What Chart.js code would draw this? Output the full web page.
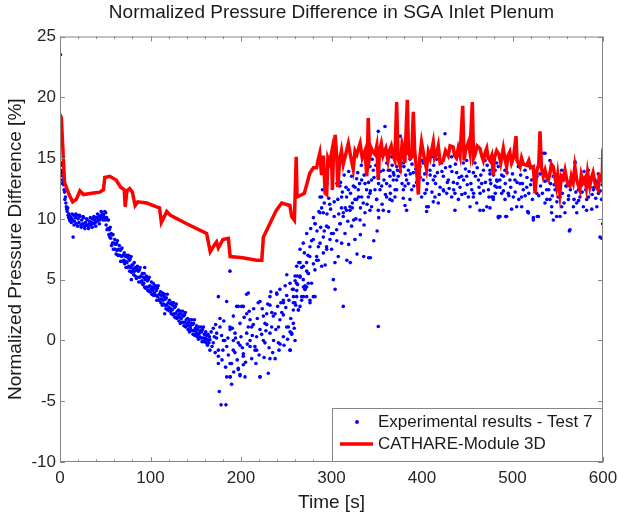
<!DOCTYPE html>
<html>
<head>
<meta charset="utf-8" />
<script src="https://cdn.jsdelivr.net/npm/chart.js@4.4.0/dist/chart.umd.min.js"></script>
<style>
  body { margin:0; background:#fff; }
  #wrap { width:618px; height:516px; }
</style>
</head>
<body>
<div id="wrap"><canvas id="chart" width="618" height="516"></canvas></div>
<script>
// axis ticks
const xTicks = [0, 100, 200, 300, 400, 500, 600];
const xMinorStep = 20;
const yTicks = [-10, -5, 0, 5, 10, 15, 20, 25];

// experimental results - Test 7, [time s, pressure diff %]
const expEarly = [[0.5,23.5],[0.3,13.6],[0.8,14.0],[1.2,14.4],[1.6,13.8],[2.0,14.6],[2.4,13.2],[2.8,12.9],[3.2,13.5],[3.6,13.0],
  [4.0,12.8],[4.5,12.4],[5.0,12.2],[5.4,11.6],[6.0,11.8],[6.5,11.3],[7.0,11.0],[7.5,10.8],[8.0,10.6],[8.5,10.9],[9.0,10.3],
  [9.5,10.1],[10,10.4],[10.5,9.9],[11,10.2],[11.5,9.8],[12,10.1],[12.5,9.7],[13,10.0],[14,9.9],[14.5,8.5],[15,10.3],[16,9.8],
  [17,10.1],[18,9.6],[19,10.3],[20,10.0],[21,9.7],[22,10.2],[23,9.5],[24,9.9],[25,9.6],[26,10.1],[27,9.4],[28,9.7],[29,9.5],
  [30,9.9],[31,9.4],[32,9.6],[33,9.8],[34,9.5],[35,9.7],[36,10.0],[37,9.6],[38,9.9],[39,9.7],[40,10.1],[41,9.8],[42,10.0],
  [43,10.2],[44,9.9],[45,10.3],[46,10.1],[47,10.4],[48,10.3],[49,10.1],[50,9.9],
  [13.5,10.4],[15.5,9.5],[17.5,10.4],[19.5,9.4],[21.5,10.3],[23.5,9.3],[25.5,10.2],[27.5,9.2],[29.5,10.0],[31.5,9.2],
  [33.5,10.1],[35.5,9.3],[37.5,10.2],[39.5,9.4],[41.5,10.4],[43.5,9.6],[45.5,10.6],[47.5,9.9],[49.5,10.6]];

const expDecline = [[50.5,10.5],[51,9.5],[51.5,10.1],[52,9.1],[52.5,9.9],[53,9.2],[53.5,9.9],[54,8.7],[54.5,9.1],[55,8.5],
  [55.5,9.3],[56,8.4],[56.5,8.8],[57,7.8],[57.5,8.7],[58,8.0],[58.5,8.7],[59,7.5],[59.5,8.0],[60,7.5],[60.5,8.3],[61,7.5],
  [61.5,7.9],[62,7.1],[62.5,8.0],[63,7.4],[63.5,8.2],[64,7.0],[64.5,7.5],[65,7.0],[65.5,7.8],[66,7.0],[66.5,7.4],[67,6.5],
  [67.5,7.5],[68,6.9],[68.5,7.6],[69,6.5],[69.5,7.0],[70,6.5],
  [70.5,6.6],[71,7.2],[71.5,6.3],[72,6.9],[72.5,6.5],[73,6.0],[73.5,7.0],[74,6.4],[74.5,6.0],[75,6.8],
  [75.5,7.0],[76,6.1],[76.5,6.6],[77,5.7],[77.5,6.7],[78,6.0],[78.5,6.9],[78.8,5.0],[79,5.6],[79.5,6.2],[80,5.7],
  [80.5,6.2],[81,5.9],[81.5,5.4],[82,6.4],[82.5,5.7],[83,5.3],[83.5,6.0],[84,5.8],[84.5,5.1],[85,5.9],
  [85.5,6.1],[86,5.2],[86.5,5.7],[87,4.8],[87.5,5.8],[88,5.2],[88.5,6.0],[89,4.8],[89.5,5.3],[90,4.8],
  [90.5,4.9],[91,5.5],[91.5,4.6],[92,5.2],[92.5,4.7],[93,5.5],[93.5,4.4],[93.6,6.0],[94,5.0],[94.5,4.3],[95,5.2],
  [95.5,5.3],[96,4.4],[96.5,4.9],[97,4.1],[97.5,5.0],[98,4.4],[98.5,5.2],[99,4.0],[99.5,4.5],[100,4.0],
  [100.5,4.2],[101,4.8],[101.5,3.8],[102,4.4],[102.5,4.1],[103,4.7],[103.5,3.7],[104,4.3],[104.5,3.9],[105,4.5],
  [105.5,4.5],[106,3.7],[106.5,4.1],[107,3.3],[107.5,4.3],[108,3.6],[108.5,4.5],[109,3.3],[109.5,3.8],[110,3.3],
  [110.5,3.4],[111,4.0],[111.5,3.1],[112,3.7],[112.5,3.4],[113,2.9],[113.5,3.9],[114,3.3],[114.5,3.0],[115,3.6],
  [115.5,3.8],[115.7,2.2],[116,2.9],[116.5,3.4],[117,2.6],[117.5,3.5],[118,2.9],[118.5,3.8],[119,2.5],[119.5,3.1],[120,2.6],
  [120.5,2.7],[121,3.3],[121.5,2.4],[122,3.0],[122.5,2.6],[123,2.2],[123.5,3.1],[124,2.5],[124.5,2.9],[125,2.1],
  [125.5,3.1],[126,2.2],[126.5,2.7],[127,1.9],[127.5,2.8],[128,2.2],[128.5,3.0],[129,1.8],[129.5,2.4],[130,1.9],
  [130.5,2.0],[131,2.5],[131.5,1.6],[132,2.2],[132.5,1.9],[133,1.4],[133.5,2.4],[134,1.8],[134.5,1.5],[135,2.1],
  [135.5,2.4],[136,1.5],[136.5,2.0],[137,1.2],[137.5,2.1],[138,1.5],[138.5,2.3],[139,1.1],[139.5,1.7],[140,1.2],
  [140.5,1.3],[141,1.8],[141.5,0.9],[142,1.5],[142.5,1.2],[143,0.7],[143.5,1.7],[144,1.1],[144.5,0.9],[145,1.4],
  [145.5,1.7],[146,0.8],[146.5,1.3],[147,0.5],[147.5,1.4],[148,0.8],[148.5,1.7],[149,0.4],[149.5,1.0],[150,0.5],
  [150.5,0.7],[151,1.2],[151.5,0.3],[152,0.9],[152.5,0.5],[153,0.1],[153.5,1.1],[154,0.6],[154.5,0.3],[155,0.8],
  [155.5,1.1],[156,0.2],[156.5,0.7],[157,-0.1],[157.5,0.9],[158,0.2],[158.5,1.1],[159,-0.1],[159.5,0.5],[160,0.0],
  [160.5,0.2],[161,0.7],[161.5,-0.2],[162,0.4],[162.5,0.1],[163,-0.4],[163.5,0.5],[164,0.0],[164.5,-0.2],[165,0.3]];

const expScatter = [[165.7,0.05],[169.4,1.0],[173,0.2],[175,3.6],[175,-1.9],[176.8,1.8],[176,-4.2],[178,-5.3],[183.4,-5.3],
  [180,-0.8],[182,0.0],[184.2,3.2],[184.2,-3.0],[188,-3.0],[187.8,5.7],[187.8,1.1],[189.6,-1.9],[189.6,-3.6],[191.5,2.0],
  [193.3,-1.0],[195.2,2.8],[197,-2.4],[198.9,-0.4],[198.9,-2.9],[200.7,2.8],[202.5,-1.3],[204.4,-3.0],[206.2,3.8],[208,1.1],
  [210,0.0],[211.8,-1.5],[213.6,1.3],[215.4,-0.5],[219,3.1],[221,-3.0],[222.8,0.5],[224.7,2.0],[226.5,-0.2],[228.4,1.3],
  [230.2,-2.7],[232,3.6],[234,2.3],[236,0.0],[237.7,-1.5],[239.6,3.8],[241.4,1.1],[243.2,-0.3],[245.1,2.3],[246.9,3.1],
  [248.8,4.5],[250.6,5.4],[252.4,1.1],[254.3,-0.8],[256,0.5],[258,3.6],[259.8,4.9],[261.6,4.1],[263.4,2.5],[265.3,5.2],
  [267,6.0],[269,3.6],[270.8,4.5],[272.6,5.7],[276.3,3.1],[280,6.3],[281.8,3.6],
  [208.1,3.9],[197,2.8],[202.6,2.8],[221,3.2],[232,2.9],[239.4,3.9],[243,4.2],[254.2,4.7],[259.7,5.3],[261.5,6.1],
  [265.2,6.4],[268.9,4.4],[272.6,3.6],[274.4,4.7],[250.5,3.7],[246.8,3.3],[237.6,2.2],[228.4,2.2],[233.9,1.1],[221,0.9],
  [217.3,0.3],[210,1.7],[206.3,0.6],[198.9,1.4],[193.4,0.6],[187.9,0.9],[180.5,0.0],[176.8,1.1],[173.1,0.6],[169.4,-0.2],
  [165.7,-0.8],[175,-0.8],[184.2,-0.5],[191.5,-0.8],[197,-0.2],[202.6,-1.1],[210,-0.5],[215.5,-0.8],[224.7,0.0],[232,0.6],
  [241.3,-0.2],[246.8,0.3],[254.2,-0.8],[175,-1.3],[187.9,-1.9],[202.6,-2.0],[197,-2.3],[187.9,-3.0],[198.9,-2.8],
  [221,-3.0],[232,-1.5],[217.3,-0.8],[191.5,0.0],[206.3,2.2],[211.8,1.1],[226.5,1.4],[235.7,2.0],[243,1.7],[250.5,1.1],
  [257.8,1.4],[263.4,2.5],[267,3.3],[270.7,4.2],[274.4,5.5],[257.8,3.1],[246.8,2.1],[254.2,0.7],[259.7,0.0],
  [167,0.7],[168,-0.5],[170.5,0.3],[171.5,-1.0],[172,1.3],[178.5,0.4],[179,-1.6],[181,1.6],[183,-2.2],[185.5,0.2],
  [186,-1.2],[190.5,1.0],[192,-2.6],[194,0.2],[195.8,-1.6],[200,0.3],[201.5,-0.6],[203.5,1.9],[205,-1.8],[207,-0.3],
  [209,2.4],[212.5,0.4],[214,2.6],[216.5,-1.9],[218,1.8],[220,-1.2],[223.5,2.6],[225.5,-1.4],[227.5,0.8],[229.5,3.0],
  [231,-0.6],[233,4.0],[235,-1.0],[238.5,0.9],[240.5,2.8],[242,-0.8],[244,3.1],[247.5,-0.4],[249.5,2.7],[251.5,0.1],
  [253,3.3],[255,1.8],[256.8,4.2],[258.8,1.0],[260.5,2.9],[262.5,4.6]];

const expRise = [[256,0.6],[257.8,4.2],[262,5.3],[263.8,6.4],[265.2,7.5],[268.8,8.0],[272.6,8.8],[276,6.9],[278,8.2],
  [281.8,9.6],[283.6,6.6],[285.5,7.7],[287.3,11.8],[291,10.5],[293,6.2],[294.7,7.5],[296.5,9.3],[300,8.8],[302,5.0],
  [304,4.2],[305.9,8.2],[309.6,9.6],[313,2.8],[315.2,10.9],[317,6.6],[319,7.9],[320.8,6.4],[324.5,9.9],[328.2,7.1],
  [330,11.8],[331.9,8.7],[335.6,6.9],[339.3,11.2],[341,6.8],[343,6.8],[346.7,8.2],[350.4,9.0],[351.7,1.15],[352.2,10.1],
  [355.9,11.2],[359.6,12.0],[363.3,10.6],[367,11.5],
  [259.6,3.1],[261.5,3.6],[265.2,2.8],[267,3.6],[270.7,4.2],[272.5,4.4],[268.8,5.0],[274.4,5.5],[276.2,3.3],[279.9,3.6],
  [278,4.7],[281.7,5.8],[285.4,6.6],[289.1,6.1],[291,7.2],[294.6,7.7],[298.3,8.3],[302,8.8],[305.7,9.1],[309.3,9.6],
  [313,10.2],[316.7,10.7],[320.4,11.0],[325.9,11.6],[333.3,11.8],[342.5,12.1],[349.9,11.6],[276.2,7.7],[279.9,8.3],
  [283.6,6.9],[287.3,8.0],[291,8.5],[294.6,9.4],[300.1,7.5],[303.8,6.4],[307.5,6.9],[311.2,8.0],[314.9,8.8],[322.2,9.4],
  [325.9,8.3],[331.5,9.9],[337,10.5],[344.3,11.0],[351.7,10.7],[261.5,4.7],[257.8,2.5],[265.2,5.3],[268.8,6.1],[272.5,6.4],
  [289.1,11.8],[289.1,10.9],[309.3,12.7],[311.2,11.8],[313,10.5],[322.2,13.5],[327.8,13.3],[333.3,13.2],[342.5,14.3],
  [346.2,14.0],[351.7,17.2],[359.1,17.6],[344.3,13.2],[338.8,12.4],[335.1,11.3],[327.8,11.6],[320.4,10.7],[316.7,11.8],
  [342.5,10.7],[349.9,11.6],[353.6,12.4],[360.9,12.9],[364.6,12.7],[368.3,13.8],[372,13.2],[364.6,11.6],[357.2,10.7],
  [368.3,15.1],[372,14.3],[355.4,12.7],[360.9,11.8],[348,12.4],[364.6,13.5],[337,12.9],[324.1,12.7],[318.6,12.4],
  [329.6,12.4],[340.7,11.8],[351.7,13.5],[357.2,14.0],[362.8,14.0],[370.1,12.4],[281.8,9.6],[287.3,10.5],
  [290,12.4],[292,11.3],[295,12.9],[297,11.7],[299,10.8],[301,12.5],[303,11.4],[306,12.9],[308,10.4],[310,13.0],
  [312,12.2],[314,13.6],[316,12.6],[319,13.9],[321,12.1],[323,10.9],[326,12.6],[329,13.8],[331,12.9],[333,14.4],
  [336,13.6],[338,14.7],[341,13.0],[343,12.3],[345,14.9],[347,13.4],[349,14.4],[352,12.9],[354,13.9],[356,15.2],
  [358,13.2],[361,14.6],[363,15.3],[365,12.1],[367,14.4],[369,13.6],[371,15.0],[373,14.0],
  [270,7.2],[274,7.0],[277,9.2],[280,10.1],[284,9.0],[286,10.6],[288,9.3],[292,9.0],[295,10.4],[298,11.2],[303,10.2],
  [307,11.6],[311,10.9],[318,9.8],[323,11.3],[327,10.0],[332,10.9],[336,9.5]];

const expPlateau = [[364.6,14.0],[368.3,13.2],[372,12.4],[375.7,16.8],[379.4,14.6],[381.2,11.1],[383,13.2],[386.8,14.9],
  [388.6,12.4],[390.4,13.8],[394,13.0],[397.8,14.3],[399.6,11.8],[401.4,13.2],[405,12.4],[407,11.0],[408.8,14.0],[412.5,13.2],
  [414.3,11.8],[416.2,14.9],[420,12.6],[423.6,13.5],[425.4,17.0],[427.3,12.1],[431,14.3],[432.8,11.8],[434.7,13.0],
  [438.3,13.8],[440.2,11.6],[442,12.6],[445.7,14.6],[447.6,12.1],[449.4,13.5],[453.1,11.0],[455,12.4],[456.8,13.8],
  [460.5,11.3],[462.4,13.2],[464.2,12.1],[467.9,14.0],[471.6,11.0],[473.4,12.4],[475.3,13.2],[477.1,11.8],[480.8,14.0],
  [482.7,12.6],[484.3,10.2],
  [366.4,15.1],[370.1,11.8],[373.8,13.5],[377.5,15.7],[381.2,12.7],[384.9,14.0],[386.7,11.6],[392.2,15.1],[395.9,13.2],
  [401.4,14.6],[403.3,12.1],[410.6,15.1],[414.3,13.5],[418,11.3],[421.7,14.6],[429.1,13.2],[432.7,15.1],[436.4,12.1],
  [443.8,13.5],[449.3,14.8],[451.2,11.8],[458.5,14.6],[465.9,12.9],[469.6,14.8],[475.1,14.0],[478.8,11.8],[482.5,14.6],
  [486.1,13.2],[383,10.7],[405.1,10.6],[436.4,10.7],[464,10.7],[475.1,10.9],[379.3,11.7],[423.5,12.4],[456.7,11.8],
  [475.1,13.7],[478.8,11.6],[482.5,13.2],[486.2,10.2],[490,13.5],[493.5,10.2],[495.3,12.1],[499,10.8],[500.9,11.8],
  [502.7,13.2],[504.6,11.0],[508.3,12.9],[510,11.8],[513.8,14.0],[515.7,12.6],[517.5,10.5],[521.2,13.2],[523,9.9],
  [526.8,12.1],[528.6,10.2],[534,15.4],[535.9,11.3],[539.6,13.2],[541.4,14.8],[543.3,11.0],[547,12.4],[548.8,10.2],
  [552.5,11.8],[556.2,13.2],[558,10.5],[561.8,11.6],[563.5,9.1],[567.3,11.0],[569.1,14.6],[571,10.5],[572.8,12.4],
  [576.5,13.5],[578.3,11.0],[582,11.6],[585.7,12.6],[587.6,10.8],[591.3,13.2],[593.2,11.0],[595,12.1],[596.7,8.5],
  [598.6,13.2],[599.6,9.6],
  [477,14.6],[480.6,12.7],[484.3,14.3],[488,12.1],[491.7,14.0],[497.2,13.2],[506.4,14.3],[511.9,12.4],[519.3,14.3],
  [524.8,13.2],[530.3,13.7],[537.7,12.4],[545.1,13.5],[550.6,11.8],[554.3,14.0],[559.8,12.7],[565.3,13.5],[574.5,11.8],
  [580.1,12.9],[583.7,14.0],[589.3,12.4],[594.8,13.7],[598.5,11.6],[517.5,10.5],[543.2,10.5],[554.3,11.0],[570.9,11.3],
  [581.9,10.7],[491.7,11.6],[510.1,11.0],[541.4,11.6],[535.9,15.4],[569.1,14.7],[562.8,9.0],[598.5,8.4],[484.4,10.1],
  [492.5,10.2],[523,10.1],[527.4,10.2],[545.1,9.9],[552.5,10.2],[516.8,10.6],[467.8,10.7],[405.2,11.0],[412.5,11.4],
  [379.4,12.4],[383.1,15.4],
  [376,13.9],[378,12.9],[380,14.3],[382,13.6],[385,12.9],[387,13.7],[389,14.5],[391,12.7],[393,14.1],[396,12.2],
  [398,13.4],[400,14.8],[403,13.7],[406,12.9],[409,13.6],[411,12.2],[413,14.4],[415,12.9],[417,13.8],[419,12.0],
  [422,13.9],[424,12.3],[426,14.2],[428,13.0],[430,12.5],[433,13.9],[435,12.4],[437,14.5],[439,12.9],[441,13.4],
  [444,12.0],[446,13.2],[448,14.1],[450,12.8],[452,13.9],[454,12.9],[457,12.1],[459,13.5],[461,14.2],[463,12.6],
  [465,13.6],[468,12.3],[470,13.0],[472,14.4],[474,11.8],[476,12.9],[479,13.6],[481,12.1],[483,13.1],[486,12.6],
  [488,13.6],[490,12.3],[492,12.9],[494,13.8],[496,11.9],[498,12.6],[500,13.7],[503,12.2],[505,13.0],[507,11.6],
  [509,13.6],[511,12.9],[514,11.9],[516,13.4],[518,12.1],[520,12.8],[522,11.6],[525,12.6],[527,13.5],[529,11.9],
  [531,12.7],[533,12.1],[536,13.1],[538,11.6],[540,12.4],[542,12.9],[544,11.9],[546,12.8],[549,11.4],[551,12.9],
  [553,13.4],[555,12.1],[557,11.3],[559,12.7],[562,11.9],[564,12.4],[566,12.9],[568,11.6],[570,12.2],[573,11.5],
  [575,12.7],[577,12.2],[579,13.9],[581,12.4],[584,11.8],[586,13.3],[588,12.0],[590,12.6],[592,11.7],[594,13.0],
  [597,12.3],[599,12.8]];

// CATHARE-Module 3D, [time s, pressure diff %]
const cathare = [[0,18.6],[1.5,18.3],[3,16],[5,13],[7,12.6],[10,12.0],[14,11.4],[18,11.6],[22,12.3],[26,12.0],[35,12.1],
  [44,12.2],[48,12.4],[49.5,13.4],[55,13.5],[62,13.2],[67,12.6],[71,12.4],[72,11.0],[74,12.3],[77,12.5],[80,12.2],[83,11.1],
  [86,11.4],[96,11.3],[106,11.0],[110,10.9],[112,9.7],[116,10.3],[118,10.6],[122,10.3],[140,9.6],[162,8.8],[166,7.3],
  [171,7.9],[173,8.1],[175,7.6],[180,8.3],[186,8.4],[188,6.9],[202,6.8],[217,6.6],[223,6.6],[224.7,8.5],[228,9.0],
  [239,10.7],[245,11.3],[254,11.1],[256,10.2],[259,9.9],[261,15.1],[262,11.8],[270,12.1],[276,13.75],[280,14.2],
  [283.6,14.2],[285,14.8],[287,15.4],[289,13.6],[291,15.2],[293,12.1],[294.7,12.0],[296,15.0],[298,14.6],[300,15.4],
  [301,12.4],[302,14.8],[304,16.9],[306,15.0],[307,12.6],[309,14.8],[311,15.6],[313,14.5],[316,15.4],[318.6,16.2],[321,15.2],[324,14.1],
  [326,15.6],[328,15.3],[330,15.8],[331.6,16.2],[334,15.0],[337,15.6],[339,13.5],[340.6,18.3],[342,15.0],[344,15.8],
  [345.8,15.5],[348,15.3],[350,16.0],[351.7,13.2],[353,15.6],[355,16.2],[357,15.2],[360,15.8],[362.4,14.8],[364,15.6],
  [366,16.0],[368,15.2],[370,14.8],[372,19.6],[373.5,15.0],[376,14.3],[378,16.2],[379.4,15.8],[381,14.6],[383.8,19.8],
  [385,15.6],[387,15.0],[388.6,15.1],[390.4,18.8],[392,15.5],[394,14.0],[396,12.0],[397.5,15.0],[399.5,16.3],[402,15.2],
  [405,14.1],[407,15.5],[409,15.0],[412.4,16.3],[414,15.0],[416,15.3],[418,16.0],[420,14.6],[423.4,14.8],[426,15.6],
  [429,15.2],[431,16.0],[434.4,15.9],[436,15.2],[438,15.0],[440,15.8],[442,15.2],[445,19.3],[446.5,14.8],[448,15.6],
  [451.3,16.3],[453,15.5],[455.6,19.6],[457,15.0],[458.6,15.3],[461,16.0],[464,15.8],[466,15.2],[467.8,14.8],[470,15.5],
  [471.5,15.8],[473,15.0],[475,14.8],[477,15.2],[478.8,13.6],[480,15.0],[482.5,15.6],[485,15.3],[487,14.6],[489.8,15.8],
  [491.5,15.0],[493.5,14.3],[495,15.2],[497,15.5],[499,14.6],[501,15.0],[503.9,16.8],[505,14.8],[508.3,14.3],[510,15.0],
  [512,14.5],[515.7,14.4],[518,14.8],[520,14.2],[523,14.3],[524.9,12.1],[527,14.0],[529,14.5],[530.4,17.2],[532,14.2],
  [534,13.5],[536,14.0],[538,13.4],[539.6,13.2],[541.5,13.8],[543,14.5],[545,14.3],[547,13.4],[548.6,12.7],[550,13.6],
  [552.3,12.1],[554,13.5],[556,13.3],[558,14.0],[560,13.2],[561.5,12.8],[563.4,12.7],[565,13.5],[567,13.0],[568.9,14.3],
  [571,13.2],[572.5,12.8],[574.4,12.4],[576,13.6],[578,13.0],[579.9,13.3],[581.5,12.6],[583,13.8],[585.4,12.7],[587,13.3],
  [589,13.8],[591,13.0],[592.5,12.6],[594.5,12.4],[596,13.6],[598,13.5],[599,13.0],[600,15.8]];

const FONT = "'Liberation Sans', Arial, Helvetica, sans-serif";
const toXY = arr => arr.map(p => ({ x: p[0], y: p[1] }));
const expAll = [].concat(expEarly, expDecline, expScatter, expRise, expPlateau);

const framePlugin = {
  id: 'frame',
  afterDatasetsDraw(chart) {
    const { ctx, chartArea: a, scales: { x, y } } = chart;
    ctx.save();
    ctx.strokeStyle = '#858585';
    ctx.lineWidth = 1;
    ctx.strokeRect(a.left + 0.5, a.top + 0.5, a.right - a.left - 1, a.bottom - a.top - 1);
    ctx.beginPath();
    for (let t = xTicks[0]; t <= xTicks[xTicks.length - 1]; t += xMinorStep) {
      const px = Math.round(x.getPixelForValue(t)) + 0.5;
      const len = xTicks.includes(t) ? 5 : 2.5;
      ctx.moveTo(px, a.bottom); ctx.lineTo(px, a.bottom - len);
      ctx.moveTo(px, a.top); ctx.lineTo(px, a.top + len);
    }
    yTicks.forEach(v => {
      const py = Math.round(y.getPixelForValue(v)) + 0.5;
      ctx.moveTo(a.left, py); ctx.lineTo(a.left + 5, py);
      ctx.moveTo(a.right, py); ctx.lineTo(a.right - 5, py);
    });
    ctx.stroke();

    // legend box, lower right
    const ds = chart.data.datasets;
    const bw = 271, bh = 54;
    const bx = a.right - bw, by = a.bottom - bh;
    ctx.fillStyle = '#fff';
    ctx.fillRect(bx, by, bw, bh);
    ctx.strokeRect(bx + 0.5, by + 0.5, bw - 1, bh - 1);
    ctx.fillStyle = ds[0].backgroundColor;
    ctx.beginPath();
    ctx.arc(bx + 25, by + 14, 1.9, 0, Math.PI * 2);
    ctx.fill();
    ctx.strokeStyle = ds[1].borderColor;
    ctx.lineWidth = 3.5;
    ctx.beginPath();
    ctx.moveTo(bx + 8, by + 36); ctx.lineTo(bx + 41, by + 36);
    ctx.stroke();
    ctx.fillStyle = '#1a1a1a';
    ctx.font = '17px ' + FONT;
    ctx.textBaseline = 'middle';
    ctx.fillText(ds[0].label, bx + 46, by + 14);
    ctx.fillText(ds[1].label, bx + 46, by + 36);
    ctx.restore();
  }
};

new Chart(document.getElementById('chart'), {
  type: 'scatter',
  data: {
    datasets: [
      { label: 'Experimental results - Test 7', data: toXY(expAll), showLine: false,
        pointRadius: 1.8, pointHoverRadius: 1.8, backgroundColor: '#0000ff', borderWidth: 0, order: 2 },
      { label: 'CATHARE-Module 3D', data: toXY(cathare), showLine: true, pointRadius: 0,
        borderColor: '#ff0000', backgroundColor: '#ff0000', borderWidth: 3.5, tension: 0, order: 1 }
    ]
  },
  options: {
    responsive: false,
    animation: false,
    layout: { padding: { left: 0, right: 15, top: 0, bottom: 0 } },
    plugins: {
      legend: { display: false },
      tooltip: { enabled: false },
      title: { display: true, fullSize: false, text: 'Normalized Pressure Difference in SGA Inlet Plenum',
        color: '#1a1a1a', font: { family: FONT, size: 19, weight: 'normal' }, padding: { top: 1.5, bottom: 12.2 } }
    },
    scales: {
      x: {
        type: 'linear', min: 0, max: 600,
        afterBuildTicks: s => { s.ticks = xTicks.map(v => ({ value: v })); },
        afterFit: s => { s.height = 54; s.paddingRight = 14; s.paddingLeft = 5; },
        grid: { display: false, drawTicks: false },
        border: { display: false },
        ticks: { color: '#262626', font: { family: FONT, size: 17 }, padding: 6, maxRotation: 0, autoSkip: false },
        title: { display: true, text: 'Time [s]', color: '#1a1a1a', font: { family: FONT, size: 19 }, padding: { top: 0, bottom: 2 } }
      },
      y: {
        type: 'linear', min: -10, max: 25,
        afterBuildTicks: s => { s.ticks = yTicks.map(v => ({ value: v })); },
        afterFit: s => { s.width = 60; },
        grid: { display: false, drawTicks: false },
        border: { display: false },
        ticks: { color: '#262626', font: { family: FONT, size: 17 }, padding: 4, autoSkip: false },
        title: { display: true, text: 'Normalized Pressure Difference [%]', color: '#1a1a1a', font: { family: FONT, size: 19 }, padding: { top: 4, bottom: 0 } }
      }
    }
  },
  plugins: [framePlugin]
});
</script>
</body>
</html>
